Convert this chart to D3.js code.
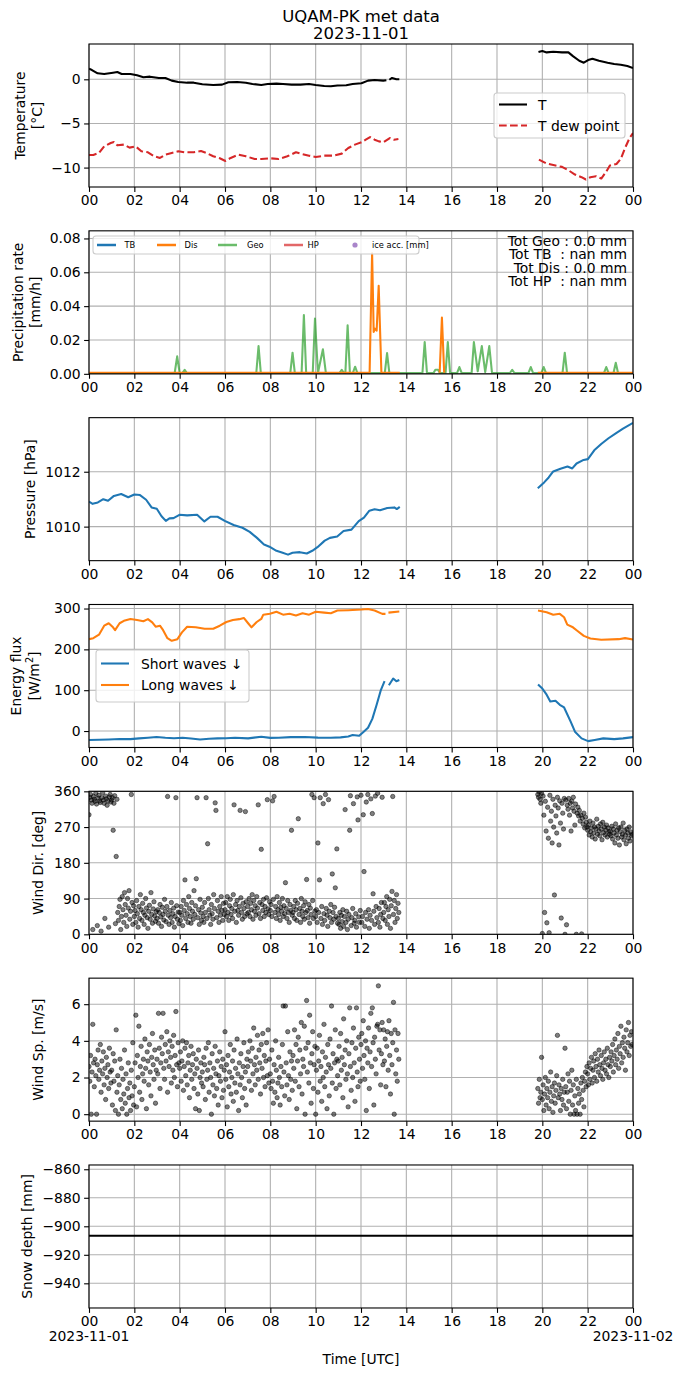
<!DOCTYPE html>
<html>
<head>
<meta charset="utf-8">
<script src="https://cdn.jsdelivr.net/npm/d3@7"></script>
<style>
  body { margin: 0; background: #fff; }
  svg { display: block; font-family: "DejaVu Sans", sans-serif; }
</style>
</head>
<body>
<svg id="chart" width="683" height="1377"></svg>
<script>
// ---- data (hours UTC, null = gap) ----
const hourTicks = d3.range(0, 25, 2)

const temperature = [[0,1.2],[0.13,1.05],[0.38,0.68],[0.67,0.6],[1.06,0.75],[1.25,0.83],[1.44,0.6],[1.83,0.6],[2.12,0.45],[2.4,0.23],
  [2.69,0.3],[3.08,0.15],[3.37,0.15],[3.65,-0.15],[3.94,-0.3],[4.33,-0.38],[4.62,-0.38],[5.0,-0.56],[5.48,-0.64],[5.87,-0.6],
  [6.15,-0.34],[6.54,-0.3],[6.92,-0.38],[7.21,-0.53],[7.6,-0.64],[7.88,-0.53],[8.27,-0.49],[8.56,-0.53],[8.94,-0.6],[9.33,-0.6],
  [9.71,-0.53],[10.0,-0.64],[10.38,-0.75],[10.67,-0.79],[10.96,-0.71],[11.35,-0.68],[11.63,-0.53],[12.02,-0.45],[12.31,-0.15],[12.6,-0.08],
  [12.98,-0.15],[13.12,-0.1],[13.2,null],[13.25,-0.05],[13.37,0.15],[13.56,0.0],[13.69,0.0],[13.7,null],
  [19.83,3.08],[20.0,3.2],[20.19,3.05],[20.48,3.12],[20.87,3.05],[21.15,3.05],[21.35,2.63],[21.63,2.1],[21.83,1.88],[22.02,2.18],
  [22.21,2.33],[22.5,2.1],[22.88,1.88],[23.17,1.73],[23.46,1.65],[23.75,1.5],[24.0,1.28]]

const dewPoint = [[0,-8.57],[0.19,-8.57],[0.44,-8.35],[0.67,-7.6],[0.96,-7.22],[1.1,-7.1],[1.25,-7.48],[1.54,-7.4],[1.79,-7.74],[2.06,-7.6],
  [2.31,-8.16],[2.6,-8.27],[2.88,-8.72],[3.13,-8.91],[3.37,-8.53],[3.65,-8.35],[3.94,-8.16],[4.23,-8.27],[4.62,-8.27],[4.94,-8.12],
  [5.19,-8.35],[5.48,-8.72],[5.77,-8.95],[6.02,-9.25],[6.25,-8.91],[6.6,-8.53],[6.92,-8.72],[7.31,-9.02],[7.6,-9.02],[7.98,-8.95],
  [8.37,-9.02],[8.75,-8.72],[9.13,-8.27],[9.33,-8.42],[9.71,-8.65],[10.0,-8.8],[10.38,-8.65],[10.77,-8.65],[11.15,-8.42],[11.44,-7.78],
  [11.73,-7.4],[12.02,-7.14],[12.21,-6.84],[12.4,-6.54],[12.6,-6.84],[12.79,-7.03],[12.98,-7.14],[13.27,-6.65],[13.46,-6.84],[13.65,-6.77],[13.7,null],
  [19.85,-9.1],[20.19,-9.55],[20.58,-9.77],[20.87,-9.92],[21.15,-10.3],[21.44,-10.79],[21.73,-11.09],[21.92,-11.35],[22.12,-11.09],[22.37,-10.98],
  [22.6,-11.24],[22.83,-10.41],[22.98,-9.77],[23.27,-9.59],[23.46,-9.02],[23.65,-7.78],[23.85,-6.65],[24.0,-6.09]]

const precipGeo = [[0,.0005],[3.78,.0005],[3.89,.0103],[4.0,.0005],[4.12,.0005],[4.22,.0024],[4.32,.0005],
  [7.38,.0005],[7.48,.0164],[7.58,.0005],[8.88,.0005],[8.98,.0125],[9.08,.0005],[9.38,.0005],[9.48,.0347],[9.58,.0005],
  [9.87,.0005],[9.97,.0327],[10.1,.0005],[10.32,.0145],[10.45,.0005],[11.05,.0005],[11.15,.0024],[11.25,.0005],
  [11.31,.0005],[11.41,.0287],[11.51,.0005],[11.64,.0005],[11.74,.0042],[11.84,.0005],[13.05,.0005],[13.15,.0123],[13.25,.0005],
  [14.71,.0005],[14.81,.0188],[14.91,.0005],[15.2,.0005],[15.28,.0024],[15.4,.0024],[15.48,.0005],
  [15.73,.0005],[15.83,.0188],[15.93,.0005],[16.24,.0005],[16.34,.004],[16.44,.0005],
  [16.88,.0005],[16.98,.0188],[17.15,.0015],[17.33,.0164],[17.48,.001],[17.66,.0164],[17.78,.0005],
  [18.57,.0005],[18.67,.0024],[18.77,.0005],[19.39,.0005],[19.49,.004],[19.59,.0005],[19.96,.0005],[20.06,.004],[20.16,.0005],
  [20.89,.0005],[20.99,.0125],[21.09,.0005],[22.72,.0005],[22.82,.004],[22.92,.0005],[23.14,.0005],[23.24,.0065],[23.34,.0005],[24,.0005]]

const precipDis = [[0,.0006],[12.38,.0006],[12.49,.0713],[12.56,.0248],[12.62,.0267],[12.69,.0255],[12.78,.052],[12.9,.0006],[13.71,.0006],[13.72,null],
  [15.47,.0006],[15.57,.0333],[15.67,.0006],[15.68,null],[19.8,.0006],[24,.0006]]

const precipTotals = ["Tot Geo : 0.0 mm", "Tot TB  : nan mm", "Tot Dis : 0.0 mm", "Tot HP  : nan mm"]

const pressure = [[0,1010.91],[0.16,1010.83],[0.39,1010.88],[0.63,1011.0],[0.84,1010.94],[1.1,1011.12],[1.42,1011.19],[1.73,1011.07],[2.0,1011.17],[2.25,1011.15],
  [2.52,1010.98],[2.76,1010.7],[2.99,1010.65],[3.2,1010.38],[3.39,1010.21],[3.55,1010.3],[3.73,1010.31],[3.99,1010.43],[4.33,1010.41],[4.77,1010.43],
  [5.09,1010.19],[5.36,1010.36],[5.67,1010.36],[5.99,1010.21],[6.38,1010.06],[6.77,1009.96],[7.09,1009.81],[7.41,1009.59],[7.72,1009.35],[7.96,1009.27],
  [8.27,1009.12],[8.51,1009.06],[8.78,1008.98],[8.98,1009.05],[9.3,1009.07],[9.61,1009.02],[9.85,1009.12],[10.08,1009.25],[10.4,1009.49],[10.63,1009.59],
  [10.95,1009.64],[11.23,1009.84],[11.58,1009.89],[11.9,1010.2],[12.13,1010.33],[12.37,1010.58],[12.6,1010.63],[12.84,1010.6],[13.16,1010.68],[13.47,1010.7],
  [13.58,1010.64],[13.71,1010.72],[13.72,null],
  [19.8,1011.4],[20.09,1011.62],[20.28,1011.79],[20.48,1012.01],[20.8,1012.11],[21.11,1012.19],[21.32,1012.12],[21.51,1012.3],[21.82,1012.43],[22.01,1012.46],
  [22.29,1012.78],[22.61,1013.02],[22.92,1013.22],[23.24,1013.4],[23.56,1013.57],[24.0,1013.78]]

const shortWave = [[0,-22],[0.45,-21.5],[0.87,-20.6],[1.35,-19.5],[1.83,-19.8],[2.21,-18],[2.6,-16.5],[2.98,-14.8],[3.37,-16.5],[3.75,-17.5],[4.13,-16.5],
  [4.5,-18.5],[4.9,-20.6],[5.3,-19],[5.67,-18],[6.05,-17.5],[6.44,-16.5],[7.02,-18],[7.6,-14],[8.0,-16.8],[8.37,-16.5],[8.9,-15],[9.52,-14.8],
  [10.1,-16.2],[10.67,-16.5],[11.1,-15.5],[11.44,-13.2],[11.63,-9.9],[11.92,-11.5],[12.12,-1.6],[12.31,8.2],[12.5,29.7],[12.69,64.3],[12.88,101],[13.04,122],[13.12,null],
  [13.23,112],[13.42,128.6],[13.56,122],[13.69,125],[13.75,null],
  [19.81,113.8],[20.0,104],[20.19,89],[20.35,72.5],[20.58,74],[20.77,64.3],[20.96,57.7],[21.25,23],[21.44,-1.6],[21.73,-18],
  [22.02,-24.7],[22.31,-22],[22.69,-18],[23.17,-19.8],[23.56,-18],[24,-14.8]]

const longWave = [[0,225],[0.19,227.5],[0.44,236],[0.67,258],[0.87,264],[1.06,254],[1.15,247],[1.35,264],[1.54,270],[1.83,274.5],
  [2.12,272],[2.4,269],[2.6,274],[2.79,266],[2.94,255.5],[3.13,258],[3.27,247],[3.46,227.5],[3.65,221],[3.9,225],
  [4.1,241.5],[4.33,255.5],[4.71,254],[5.1,250.5],[5.48,250.5],[5.77,258],[6.06,267],[6.35,272],[6.63,274],[6.83,277],
  [7.02,264],[7.17,254],[7.4,267],[7.6,274.5],[7.69,285],[7.98,287],[8.27,292],[8.56,285],[8.85,287],[9.13,283],
  [9.42,288.5],[9.71,285],[10.0,292],[10.38,290],[10.67,288.5],[10.96,295],[11.44,296],[12.02,297.6],[12.31,299],[12.6,295],
  [12.94,287],[13.08,287],[13.14,null],[13.21,290],[13.69,292.7],[13.75,null],
  [19.81,295],[20.19,291],[20.48,285],[20.77,287],[20.96,278.6],[21.1,260.5],[21.35,254],[21.54,245.7],[21.83,233],[22.12,226.7],
  [22.6,223.4],[23.37,225],[23.65,227.5],[24.0,224]]

// wind: one row per hour, 2-minute samples; row starts in hours
const windRowStart = [0,1,2,3,4,5,6,7,8,9,10,11,12,13,19.8,20,21,22,23]
const windDirRows = [
  [301,345,352,338,330,12,347,340,335,355,328,22,343,350,336,332,8,344,357,338,330,40,348,341,325,336,18,346,352,333],
  [338,344,262,330,349,27,196,340,55,35,70,88,12,45,95,62,30,105,75,48,20,90,66,110,38,58,352,80,25,72],
  [45,60,30,85,52,18,70,40,100,62,35,78,55,25,48,90,66,42,15,58,73,38,105,50,28,64,82,46,33,57],
  [40,62,28,55,75,44,20,68,50,36,88,58,32,70,347,48,25,60,42,80,30,52,66,18,45,344,72,38,56,27],
  [55,35,70,48,22,85,60,137,40,75,52,30,95,65,45,28,80,58,38,110,50,72,140,344,42,62,25,88,54,35],
  [68,45,30,80,55,344,40,228,90,62,48,25,75,52,38,100,65,331,312,42,85,58,30,70,48,95,60,35,78,50],
  [62,80,45,95,55,35,72,88,50,65,40,100,326,58,75,30,85,60,48,70,312,92,55,38,78,65,45,309,82,52],
  [70,55,90,45,78,62,100,38,85,58,72,48,95,66,326,52,80,40,214,75,60,88,45,70,55,92,339,64,50,82],
  [60,75,45,336,88,347,55,70,40,95,62,50,80,35,68,58,90,45,72,52,130,65,40,85,55,30,75,60,262,48],
  [55,70,40,85,62,35,78,291,50,65,30,90,58,45,72,38,82,55,138,60,42,75,28,66,50,352,85,40,344,58],
  [45,62,30,230,55,137,344,40,70,25,329,52,35,352,65,48,20,339,58,42,75,30,152,55,38,68,117,45,215,28],
  [40,25,55,15,48,32,62,20,45,314,30,58,12,38,50,262,349,22,42,65,329,28,35,52,18,346,288,44,30,60],
  [350,30,45,301,158,20,55,333,38,352,62,15,48,341,35,304,102,58,25,348,70,42,355,30,65,18,50,80,345,40],
  [55,80,35,70,95,25,62,45,88,15,72,108,347,50,85,30,65,100,40,78,55],
  [352,345,358,340,330,355],
  [2,348,300,55,335,260,29,320,242,4,350,285,310,230,340,270,99,325,298,255,345,318,225,336,280,41,330,305,265,342],
  [0,338,24,325,315,342,300,330,260,335,318,345,310,275,328,0,305,320,298,312,285,300,1,292,278,305,268,295,282,270],
  [262,275,250,285,258,268,245,280,255,270,240,265,290,252,272,260,248,278,265,238,282,256,270,250,262,275,245,268,258,252],
  [260,248,272,240,265,255,230,278,250,262,242,268,225,258,270,245,252,280,238,262,250,228,265,255,242,270,235,258,248,252]]

const windSpRows = [
  [2.6,1.8,3.2,0.0,2.3,4.9,2.8,1.5,3.0,2.1,0.0,2.7,3.5,1.9,2.4,3.8,1.2,2.9,2.2,3.4,1.6,2.5,0.8,3.1,2.0,2.7,1.4,3.6,2.3,1.7],
  [2.4,0.5,3.3,1.8,2.9,0.2,4.6,1.2,2.1,0.0,1.6,3.0,0.8,2.5,0.3,1.9,1.1,3.5,0.6,2.2,0.0,1.4,2.8,0.9,1.7,0.2,2.4,1.0,3.9,0.5],
  [1.5,2.8,5.4,0.4,3.2,2.0,4.8,1.2,2.6,3.7,0.8,2.2,3.0,1.8,4.1,2.5,0.3,3.4,2.9,1.6,3.8,2.3,1.0,3.1,4.4,2.7,1.9,3.5,0.6,2.4],
  [3.0,2.2,5.5,3.6,1.4,2.8,4.2,3.3,5.5,2.5,1.9,3.8,2.9,4.5,1.2,3.4,2.6,4.0,3.1,1.7,3.7,2.4,4.3,2.0,3.2,5.6,2.7,1.5,3.9,2.8],
  [2.5,3.4,1.8,2.9,4.0,1.3,2.6,3.6,2.1,3.9,1.6,2.8,3.2,0.9,2.4,3.7,1.9,2.7,3.3,1.4,2.2,0.3,3.0,2.5,1.1,3.5,0.2,2.0,2.8,1.7],
  [2.3,1.5,3.1,2.7,0.8,3.6,1.9,2.4,3.9,1.2,2.8,2.0,0.0,3.3,1.6,2.5,1.0,3.7,2.2,1.4,2.9,0.5,2.1,3.4,1.8,2.6,0.9,3.0,1.3,2.4],
  [4.5,1.9,2.7,0.4,3.2,1.5,2.3,3.8,1.1,2.0,2.9,0.7,3.5,1.7,2.5,1.2,4.1,2.2,0.2,2.8,1.6,3.3,2.0,0.9,2.6,3.9,1.4,2.3,0.5,3.0],
  [2.6,3.4,1.8,4.0,2.9,1.3,3.6,2.2,4.7,2.7,1.6,3.1,2.4,4.3,1.9,3.5,2.8,1.1,3.8,2.5,4.4,2.0,3.2,1.5,2.9,3.9,2.1,4.6,1.7,3.0],
  [2.2,1.4,3.5,1.8,0.6,2.7,1.2,4.0,2.4,0.9,1.7,3.1,2.0,0.5,2.6,1.5,3.8,5.9,2.3,1.0,5.9,2.8,1.6,4.5,2.1,0.8,3.4,1.9,2.9,1.3],
  [3.2,2.5,4.6,1.8,3.8,0.3,2.9,4.2,1.5,3.5,2.2,5.0,1.1,3.0,2.6,4.8,0.0,3.6,6.2,2.3,3.9,1.7,5.4,2.8,0.6,3.3,4.5,1.4,2.7,3.7],
  [0.0,2.4,3.6,1.2,2.9,4.3,1.8,2.6,0.7,3.4,2.0,4.9,1.5,3.1,2.3,0.3,3.8,2.7,1.0,4.1,2.5,5.9,1.7,3.3,0.0,2.8,4.6,1.4,3.0,2.1],
  [2.9,3.7,1.6,4.4,2.4,3.1,0.9,5.2,2.7,3.5,1.9,4.0,2.2,0.4,3.3,5.8,2.6,1.3,3.9,2.0,4.7,2.8,0.7,3.6,5.8,2.3,1.5,4.2,3.0,1.8],
  [3.8,4.4,2.5,5.1,3.2,1.9,4.0,0.2,3.6,2.8,4.7,1.4,3.4,5.5,2.6,5.8,3.9,0.5,4.2,3.0,2.2,4.8,4.9,7.0,3.5,4.6,1.6,3.3,5.0,2.7],
  [4.6,2.9,4.1,1.5,3.7,4.5,2.4,5.1,3.2,1.1,4.4,2.7,3.9,6.1,0.0,4.6,2.2,3.5,1.8,4.4,3.0],
  [1.4,0.6,1.9,0.9,1.2,3.1],
  [0.8,1.6,0.2,1.1,2.0,0.5,1.4,0.9,1.8,0.3,1.2,2.3,0.7,1.5,0.1,1.0,1.7,0.6,1.3,2.1,4.3,0.9,1.6,1.1,0.2,1.4,0.8,1.9,0.5,1.2],
  [3.6,1.5,0.3,1.2,2.2,0.7,1.8,0.0,1.3,2.4,0.5,1.6,0.0,1.0,0.2,1.9,0.0,1.4,0.6,1.1,0.0,1.7,0.8,2.0,1.3,0.4,1.8,2.3,1.5,2.6],
  [2.2,1.6,2.8,1.9,2.5,3.1,1.7,2.4,2.9,2.0,3.3,2.6,1.8,3.0,2.3,3.5,2.7,2.1,3.2,2.5,1.9,2.8,3.4,2.4,3.0,2.2,3.6,2.7,2.0,3.1],
  [2.6,3.4,2.9,3.8,2.3,3.2,4.1,2.7,3.5,3.0,4.4,2.5,3.7,3.3,4.8,2.8,3.9,3.1,4.2,3.6,2.4,4.6,3.4,3.9,5.0,3.2,4.3,3.7,4.5,3.8]]

const snowDepth = [[0,-906.6],[24,-906.6]]

// ---- layout ----
const font = '"DejaVu Sans", sans-serif'
const fs = 13.9
const svg = d3.select('#chart')
const x = d3.scaleLinear().domain([0, 24]).range([89, 633])
const panelH = 143
const fmtHour = d => String(d % 24).padStart(2, '0')

function makePanel(i, yDomain, yTicks, yFmt) {
  const top = 44 + 186.83 * i, bottom = top + panelH
  const y = d3.scaleLinear().domain(yDomain).range([bottom, top])
  const g = svg.append('g')
  g.append('clipPath').attr('id', 'clip' + i)
    .append('rect').attr('x', 89).attr('y', top).attr('width', 544).attr('height', panelH)

  const grid = g.append('g').attr('stroke', '#b0b0b0').attr('stroke-width', 1.1)
  grid.selectAll('line.gx').data(hourTicks).join('line').attr('class', 'gx')
    .attr('x1', d => x(d)).attr('x2', d => x(d)).attr('y1', top).attr('y2', bottom)
  grid.selectAll('line.gy').data(yTicks).join('line').attr('class', 'gy')
    .attr('x1', 89).attr('x2', 633).attr('y1', d => y(d)).attr('y2', d => y(d))

  const data = g.append('g').attr('clip-path', `url(#clip${i})`)
  const frame = g.append('g')

  frame.append('rect').attr('x', 89).attr('y', top).attr('width', 544).attr('height', panelH)
    .attr('fill', 'none').attr('stroke', '#000').attr('stroke-width', 1.1)
  frame.append('g').attr('transform', `translate(0,${bottom})`)
    .call(d3.axisBottom(x).tickValues(hourTicks).tickFormat(fmtHour).tickSize(4.9).tickPadding(3.5))
  frame.append('g').attr('transform', 'translate(89,0)')
    .call(d3.axisLeft(y).tickValues(yTicks).tickFormat(yFmt).tickSize(4.9).tickPadding(3.5))
  frame.selectAll('.domain').remove()
  frame.selectAll('.tick line').attr('stroke', '#000').attr('stroke-width', 1.1)
  frame.selectAll('.tick text').attr('font-size', fs).attr('font-family', font).attr('fill', '#000')

  return { g, y, data, top, bottom, cy: (top + bottom) / 2 }
}

function yLabel(p, lines) {
  lines.forEach(([txt, cx]) => {
    p.g.append('text').attr('transform', `translate(${cx},${p.cy}) rotate(-90)`)
      .attr('text-anchor', 'middle').attr('dominant-baseline', 'central')
      .attr('font-size', fs).text(txt)
  })
}

function drawLine(p, pts, color, width, dash, opacity) {
  const line = d3.line().defined(d => d[1] != null).x(d => x(d[0])).y(d => p.y(d[1]))
  p.data.append('path').attr('d', line(pts)).attr('fill', 'none')
    .attr('stroke', color).attr('stroke-width', width)
    .attr('stroke-linejoin', 'round').attr('stroke-opacity', opacity || 1)
    .attr('stroke-dasharray', dash || null)
}

function drawScatter(p, rows) {
  const pts = rows.flatMap((row, r) => row.map((v, j) => [windRowStart[r] + j / 30, v]))
  p.data.selectAll('circle').data(pts).join('circle')
    .attr('cx', d => x(d[0])).attr('cy', d => p.y(d[1])).attr('r', 2.2)
    .attr('fill', '#000').attr('fill-opacity', 0.5)
    .attr('stroke', '#000').attr('stroke-opacity', 0.5).attr('stroke-width', 0.9)
}

function legendBox(g, x0, y0, w, h) {
  g.append('rect').attr('x', x0).attr('y', y0).attr('width', w).attr('height', h).attr('rx', 3)
    .attr('fill', '#fff').attr('fill-opacity', 0.8).attr('stroke', '#cccccc').attr('stroke-width', 1.1)
}

// title
svg.append('text').attr('x', 361).attr('y', 16).attr('text-anchor', 'middle').attr('dominant-baseline', 'central')
  .attr('font-size', 16.5).text('UQAM-PK met data')
svg.append('text').attr('x', 361).attr('y', 33).attr('text-anchor', 'middle').attr('dominant-baseline', 'central')
  .attr('font-size', 16.5).text('2023-11-01')

// 1. temperature
const p1 = makePanel(0, [-12.2, 4.0], [-10, -5, 0], d3.format('d'))
drawLine(p1, temperature, '#000', 2.08)
drawLine(p1, dewPoint, '#d62728', 2.08, '7.7,3.3')
yLabel(p1, [['Temperature', 20], ['[°C]', 37]])
legendBox(p1.g, 494, 93, 131, 45)
p1.g.append('line').attr('x1', 499).attr('x2', 527).attr('y1', 104.5).attr('y2', 104.5).attr('stroke', '#000').attr('stroke-width', 2.08)
p1.g.append('line').attr('x1', 499).attr('x2', 527).attr('y1', 125.5).attr('y2', 125.5).attr('stroke', '#d62728').attr('stroke-width', 2.08).attr('stroke-dasharray', '7.7,3.3')
p1.g.append('text').attr('x', 538).attr('y', 104.5).attr('dominant-baseline', 'central').attr('font-size', fs).text('T')
p1.g.append('text').attr('x', 538).attr('y', 125.5).attr('dominant-baseline', 'central').attr('font-size', fs).text('T dew point')

// 2. precipitation
const p2 = makePanel(1, [0, 0.0845], [0, 0.02, 0.04, 0.06, 0.08], d3.format('.2f'))
drawLine(p2, precipGeo, '#2ca02c', 2.08, null, 0.7)
drawLine(p2, precipDis, '#ff7f0e', 2.08)
yLabel(p2, [['Precipitation rate', 18], ['[mm/h]', 35]])
legendBox(p2.g, 93, 236, 326, 18)
const precipLegend = [
  { name: 'TB', color: '#1f77b4', x0: 97, tx: 124.5, op: 1 },
  { name: 'Dis', color: '#ff7f0e', x0: 157, tx: 184.5, op: 1 },
  { name: 'Geo', color: '#2ca02c', x0: 218, tx: 247, op: 0.7 },
  { name: 'HP', color: '#d62728', x0: 284, tx: 307.5, op: 0.7 }]
precipLegend.forEach(d => {
  p2.g.append('line').attr('x1', d.x0).attr('x2', d.x0 + 19).attr('y1', 245).attr('y2', 245)
    .attr('stroke', d.color).attr('stroke-opacity', d.op).attr('stroke-width', 2.5)
  p2.g.append('text').attr('x', d.tx).attr('y', 245).attr('dominant-baseline', 'central').attr('font-size', 8.3).text(d.name)
})
p2.g.append('circle').attr('cx', 355).attr('cy', 245).attr('r', 2.6).attr('fill', '#9467bd').attr('fill-opacity', 0.8)
p2.g.append('text').attr('x', 372).attr('y', 245).attr('dominant-baseline', 'central').attr('font-size', 8.3).text('ice acc. [mm]')
precipTotals.forEach((t, k) => {
  p2.g.append('text').attr('x', 627).attr('y', 240.5 + 13.6 * k).attr('text-anchor', 'end')
    .attr('dominant-baseline', 'central').attr('font-size', fs).style('white-space', 'pre').text(t)
})

// 3. pressure
const p3 = makePanel(2, [1008.76, 1013.97], [1010, 1012], d3.format('d'))
drawLine(p3, pressure, '#1f77b4', 2.08)
yLabel(p3, [['Pressure [hPa]', 30]])

// 4. radiation
const p4 = makePanel(3, [-40.3, 309.9], [0, 100, 200, 300], d3.format('d'))
drawLine(p4, shortWave, '#1f77b4', 2.08)
drawLine(p4, longWave, '#ff7f0e', 2.08)
yLabel(p4, [['Energy flux', 16]])
const wl = p4.g.append('text').attr('transform', `translate(34,${p4.cy}) rotate(-90)`)
  .attr('text-anchor', 'middle').attr('dominant-baseline', 'central').attr('font-size', fs)
wl.append('tspan').text('[W/m')
wl.append('tspan').attr('dy', -5).attr('font-size', 9.7).text('2')
wl.append('tspan').attr('dy', 5).text(']')
legendBox(p4.g, 96, 650, 153, 52)
;[['Short waves ↓', '#1f77b4', 663.5], ['Long waves ↓', '#ff7f0e', 685]].forEach(([txt, c, yy]) => {
  p4.g.append('line').attr('x1', 101).attr('x2', 129).attr('y1', yy).attr('y2', yy).attr('stroke', c).attr('stroke-width', 2.08)
  p4.g.append('text').attr('x', 141).attr('y', yy).attr('dominant-baseline', 'central').attr('font-size', fs).text(txt)
})

// 5. wind direction
const p5 = makePanel(4, [0, 360], [0, 90, 180, 270, 360], d3.format('d'))
drawScatter(p5, windDirRows)
yLabel(p5, [['Wind Dir. [deg]', 38]])

// 6. wind speed
const p6 = makePanel(5, [-0.38, 7.42], [0, 2, 4, 6], d3.format('d'))
drawScatter(p6, windSpRows)
yLabel(p6, [['Wind Sp. [m/s]', 38]])

// 7. snow depth
const p7 = makePanel(6, [-957.3, -857], [-940, -920, -900, -880, -860], d3.format('d'))
drawLine(p7, snowDepth, '#000', 2.08)
yLabel(p7, [['Snow depth [mm]', 27]])

svg.append('text').attr('x', 89).attr('y', 1336).attr('text-anchor', 'middle').attr('dominant-baseline', 'central')
  .attr('font-size', fs).text('2023-11-01')
svg.append('text').attr('x', 633).attr('y', 1336).attr('text-anchor', 'middle').attr('dominant-baseline', 'central')
  .attr('font-size', fs).text('2023-11-02')
svg.append('text').attr('x', 361).attr('y', 1359).attr('text-anchor', 'middle').attr('dominant-baseline', 'central')
  .attr('font-size', fs).text('Time [UTC]')
</script>
</body>
</html>
